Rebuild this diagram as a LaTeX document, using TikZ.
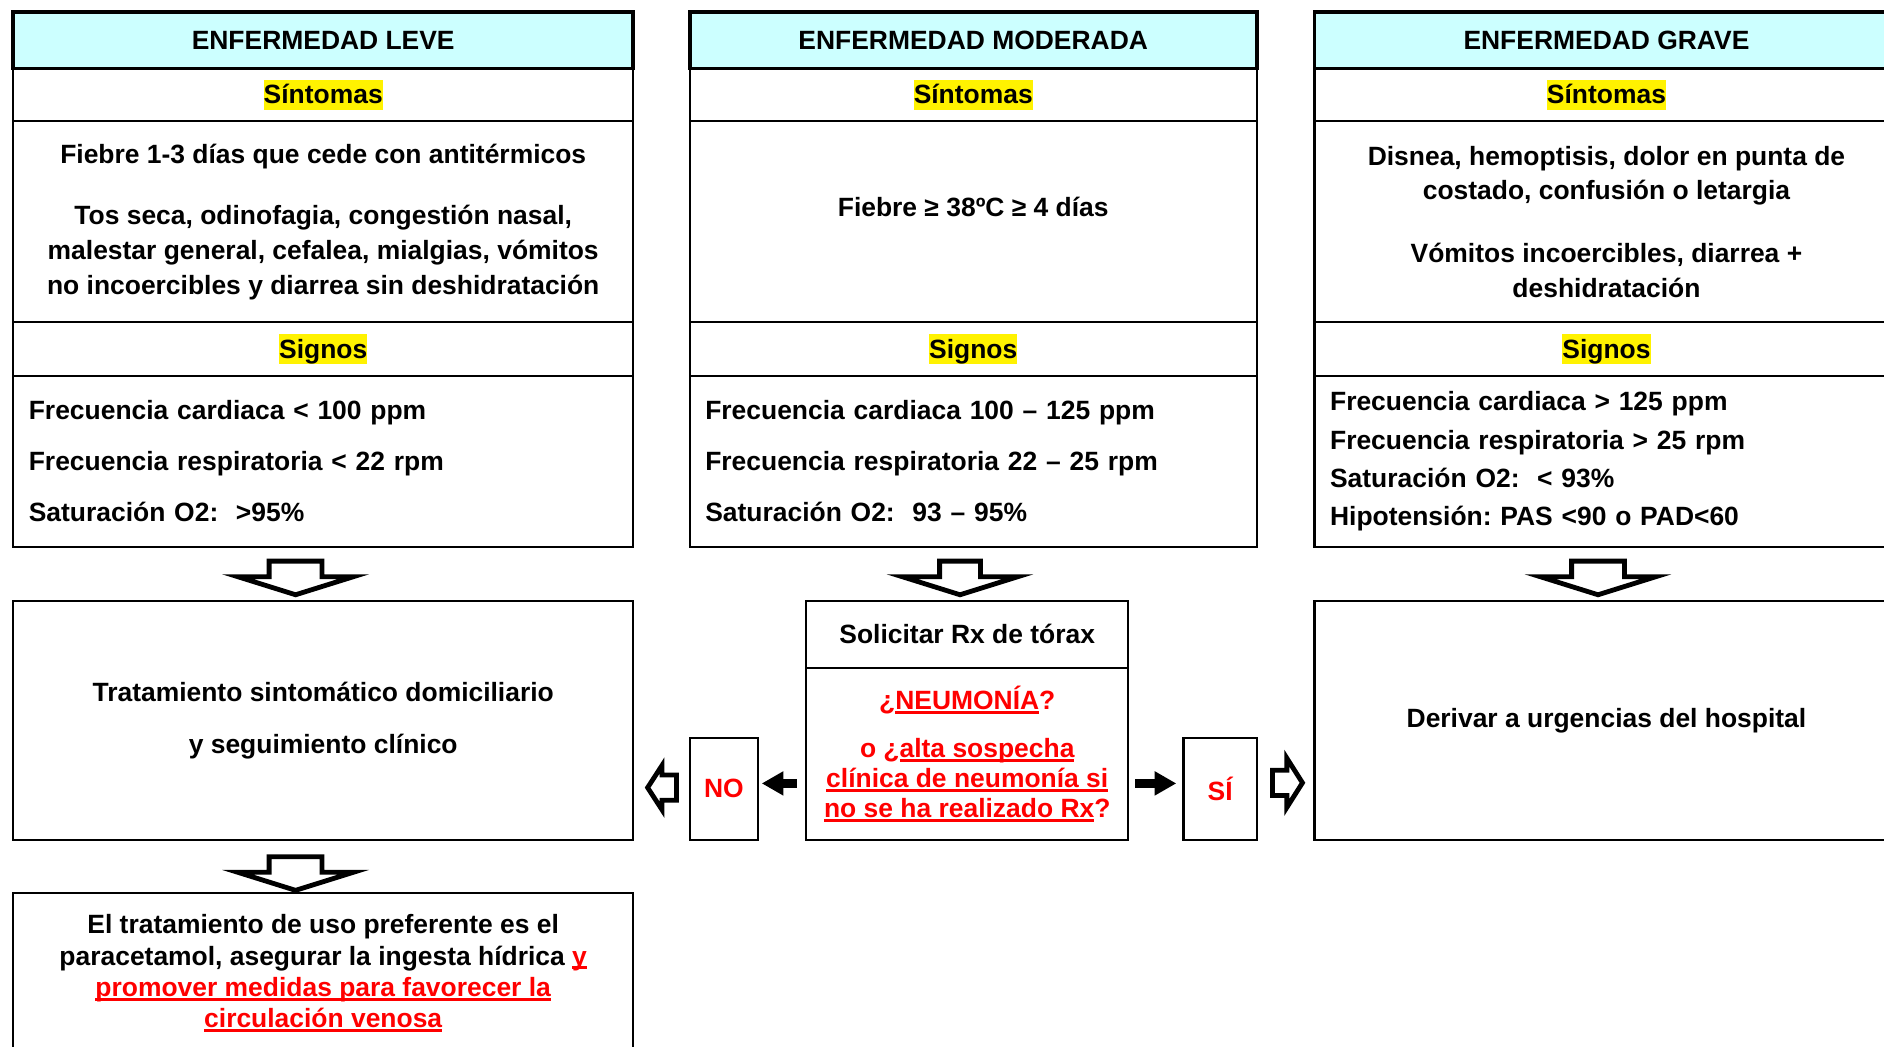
\documentclass[tikz,border=0pt]{standalone}
\usepackage{fontspec}
\setmainfont{Liberation Sans}
\usetikzlibrary{arrows.meta}

\definecolor{cabecera}{HTML}{CCFFFF}
\definecolor{rojo}{HTML}{FF0000}
% resaltado amarillo y subrayado
\newcommand\marca[1]{{\fboxsep=0pt\colorbox{yellow}{\rule[-5pt]{0pt}{25pt}#1}}}
\newcommand\subr[1]{\setbox0\hbox{#1}\rlap{\rule[-3.6pt]{\wd0}{2.4pt}}\box0}
\frenchspacing

\begin{document}
\begin{tikzpicture}[x=1pt,y=-1pt,
  every node/.style={font=\bfseries\fontsize{22}{29}\selectfont, inner sep=0pt, outer sep=0pt},
  celda/.style={draw, line width=1.8pt, anchor=north west, align=center},
  cabeza/.style={celda, fill=cabecera, line width=3.2pt, minimum height=47pt},
  lista/.style={celda, align=left, inner xsep=13pt, minimum height=142pt},
  hueca/.style={draw, fill=white, line width=4pt, line join=miter},
  flecha/.style={line width=7pt, -{Triangle[length=18pt,width=19pt]}}]
\useasboundingbox (0,0) rectangle (1568,871);

% columnas
\foreach \c/\x/\w/\titulo in {L/11/516/ENFERMEDAD LEVE, M/574/472/ENFERMEDAD MODERADA, G/1094/486/ENFERMEDAD GRAVE}{
  \node[celda, minimum width=\w pt, minimum height=44pt] (st\c) at (\x,57) {\marca{Síntomas}};
  \node[celda, minimum width=\w pt, minimum height=45pt] (sg\c) at (\x,268) {\marca{Signos}};
  \node[cabeza, minimum width=\w pt] (hd\c) at (\x,10) {\titulo};
}

\node[celda, minimum width=516pt, minimum height=167pt] (syL) at (11,101) {Fiebre 1-3 días que cede con antitérmicos\\[22pt]Tos seca, odinofagia, congestión nasal,\\malestar general, cefalea, mialgias, vómitos\\no incoercibles y diarrea sin deshidratación};
\node[celda, minimum width=472pt, minimum height=167pt] (syM) at (574,101) {};
\node (fiebre) at ([yshift=12.5pt]syM.center) {Fiebre ≥ 38ºC ≥ 4 días};
\node[celda, minimum width=486pt, minimum height=167pt] (syG) at (1094,101) {Disnea, hemoptisis, dolor en punta de\\costado, confusión o letargia\\[23pt]Vómitos incoercibles, diarrea +\\deshidratación};

\node[lista, text width=490pt] (snL) at (11,313) {Frecuencia cardiaca < 100 ppm\\[13.5pt]Frecuencia respiratoria < 22 rpm\\[13.5pt]Saturación O2:\ \ >95\%};
\node[lista, text width=446pt] (snM) at (574,313) {Frecuencia cardiaca 100 – 125 ppm\\[13.5pt]Frecuencia respiratoria 22 – 25 rpm\\[13.5pt]Saturación O2:\ \ 93 – 95\%};
\node[lista, text width=460pt] (snG) at (1094,313) {Frecuencia cardiaca > 125 ppm\\[3pt]Frecuencia respiratoria > 25 rpm\\[3pt]Saturación O2:\ \ < 93\%\\[3pt]Hipotensión: PAS <90 o PAD<60};

% conducta
\node[celda, minimum width=516pt, minimum height=199pt] (trat) at (11,500) {Tratamiento sintomático domiciliario\\[14pt]y seguimiento clínico};
\node[celda, minimum width=268pt, minimum height=56pt] (rxt) at (671,500) {Solicitar Rx de tórax};
\node[celda, minimum width=268pt, minimum height=143pt, text=rojo, font=\bfseries\fontsize{22}{25}\selectfont] (rxq) at (671,556) {¿\subr{NEUMONÍA}?\\[15pt]o ¿\subr{alta sospecha}\\\subr{clínica de neumonía si}\\\subr{no se ha realizado Rx}?};
\node[celda, minimum width=57pt, minimum height=85pt, text=rojo] (no) at (574,614) {NO};
\node[celda, minimum width=61pt, minimum height=85pt, text=rojo] (si) at (985,614) {SÍ};
\node[celda, minimum width=486pt, minimum height=199pt] (der) at (1094,500) {Derivar a urgencias del hospital};
\node[celda, minimum width=516pt, minimum height=134pt, font=\bfseries\fontsize{22}{26}\selectfont] (pref) at (11,743) {El tratamiento de uso preferente es el\\paracetamol, asegurar la ingesta hídrica \textcolor{rojo}{\subr{y}}\\\textcolor{rojo}{\subr{promover medidas para favorecer la}}\\\textcolor{rojo}{\subr{circulación venosa}}};

% flechas
\coordinate (nivno) at ([yshift=4.5pt]no.east);
\coordinate (nivsi) at ([yshift=4.5pt]si.west);
\draw[flecha, shorten <=8pt, shorten >=3pt] (nivno -| rxq.west) -- (nivno);
\draw[flecha, shorten <=6pt, shorten >=6pt] (nivsi -| rxq.east) -- (nivsi);

\foreach \cx/\ty/\sw in {246/467/22, 799/467/17, 1330/467/22, 246/713/22}
  \draw[hueca] (\cx-\sw,\ty) -- (\cx+\sw,\ty) -- (\cx+\sw,\ty+13) -- (\cx+48,\ty+13) -- (\cx,\ty+28) -- (\cx-48,\ty+13) -- (\cx-\sw,\ty+13) -- cycle;
\draw[hueca] (563,645) -- (551,645) -- (551,637) -- (539,655.5) -- (551,674) -- (551,666) -- (563,666) -- cycle;
\draw[hueca] (1059,641) -- (1071,641) -- (1071,631) -- (1084,651.5) -- (1071,672) -- (1071,662) -- (1059,662) -- cycle;
\end{tikzpicture}
\end{document}
